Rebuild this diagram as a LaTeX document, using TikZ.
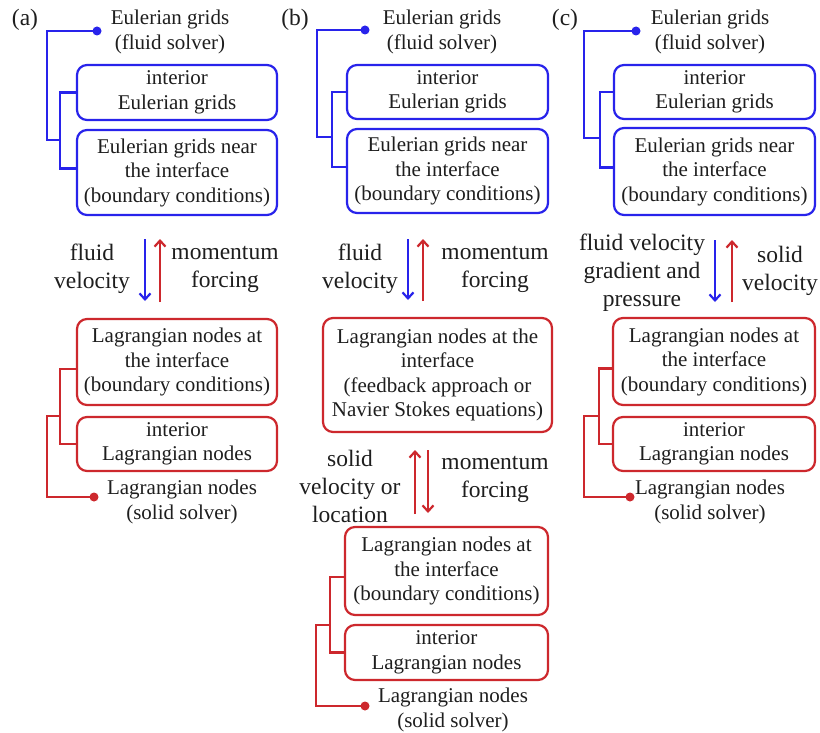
\documentclass[tikz,border=0pt]{standalone}
\usepackage{fontspec}
\setmainfont{Liberation Serif}
\usetikzlibrary{arrows.meta}
\definecolor{eblue}{RGB}{40,35,235}
\definecolor{lred}{RGB}{205,40,45}
\definecolor{txt}{RGB}{30,30,30}
\tikzset{
  bfont/.style={font=\fontsize{21}{24.5}\selectfont, text=txt},
  lfont/.style={font=\fontsize{23.5}{28}\selectfont, text=txt, align=center, inner sep=0pt},
  boxbase/.style={bfont, rounded corners=10pt, line width=2.2pt, align=center, inner sep=0pt},
  bluebox/.style={boxbase, draw=eblue},
  redbox/.style={boxbase, draw=lred},
  plain/.style={bfont, align=center, inner sep=0pt},
  bline/.style={draw=eblue, line width=2.2pt},
  rline/.style={draw=lred, line width=2.2pt},
  bdot/.style={circle, fill=eblue, inner sep=0pt, minimum size=9pt},
  rdot/.style={circle, fill=lred, inner sep=0pt, minimum size=9pt},
  barrow/.style={draw=eblue, line width=2.2pt, -{Straight Barb[length=6pt,width=11pt]}},
  rarrow/.style={draw=lred, line width=2.2pt, -{Straight Barb[length=6pt,width=11pt]}},
  plabel/.style={font=\fontsize{23.5}{28}\selectfont, text=txt, inner sep=0pt}
}
\begin{document}
\begin{tikzpicture}[x=1pt,y=-1pt]
\useasboundingbox (0,0) rectangle (820,733);
\fill[white] (0,0) rectangle (820,733);

% ================= (a) =================
\node[plabel] (la) at (25,20) {(a)};
\node[plain] (tEa) at (170,32) {Eulerian grids\\(fluid solver)};
\node[bdot] (dEa) at (97,31) {};
\node[bluebox, minimum width=200pt, minimum height=55pt] (bE1a) at (177,92.5) {interior\\Eulerian grids};
\node[bluebox, minimum width=200pt, minimum height=85pt] (bE2a) at (177,172.5) {Eulerian grids near\\the interface\\(boundary conditions)};
\coordinate (cEa) at (47,140);
\coordinate (jEa) at (60,140);
\draw[bline] (dEa.center) -| (cEa) -- (jEa);
\draw[bline] (bE1a.west) -| (jEa) |- ([yshift=4pt]bE2a.west);

\coordinate (a1t) at (145,239); \coordinate (a1b) at (145,301);
\coordinate (a2t) at (160,239); \coordinate (a2b) at (160,302);
\draw[barrow] (a1t) -- (a1b);
\draw[rarrow] (a2b) -- (a2t);
\node[lfont] (fva) at (92,269) {fluid\\velocity};
\node[lfont] (mfa) at (225,269) {momentum\\forcing};

\node[redbox, minimum width=200pt, minimum height=86pt] (bL1a) at (177,362) {Lagrangian nodes at\\the interface\\(boundary conditions)};
\node[redbox, minimum width=200pt, minimum height=54pt] (bL2a) at (177,444) {interior\\Lagrangian nodes};
\node[rdot] (dLa) at (94,497) {};
\node[plain] (tLa) at (182,502) {Lagrangian nodes\\(solid solver)};
\coordinate (jLa) at (60,416);
\coordinate (cLa) at (47,416);
\draw[rline] ([yshift=-7pt]bL1a.west) -| (jLa) |- (bL2a.west);
\draw[rline] (jLa) -- (cLa) |- (dLa.center);

% ================= (b) =================
\node[plabel] (lb) at (295,20) {(b)};
\node[plain] (tEb) at (442,32) {Eulerian grids\\(fluid solver)};
\node[bdot] (dEb) at (365,30) {};
\node[bluebox, minimum width=201pt, minimum height=54pt] (bE1b) at (447.5,92) {interior\\Eulerian grids};
\node[bluebox, minimum width=201pt, minimum height=84pt] (bE2b) at (447.5,171) {Eulerian grids near\\the interface\\(boundary conditions)};
\coordinate (cEb) at (317,137);
\coordinate (jEb) at (332,137);
\draw[bline] (dEb.center) -| (cEb) -- (jEb);
\draw[bline] (bE1b.west) -| (jEb) |- ([yshift=4pt]bE2b.west);

\coordinate (b1t) at (408,239); \coordinate (b1b) at (408,300);
\coordinate (b2t) at (423,239); \coordinate (b2b) at (423,301);
\draw[barrow] (b1t) -- (b1b);
\draw[rarrow] (b2b) -- (b2t);
\node[lfont] (fvb) at (360,269) {fluid\\velocity};
\node[lfont] (mfb) at (495,269) {momentum\\forcing};

\node[redbox, minimum width=229pt, minimum height=114pt] (bMb) at (437.5,375) {Lagrangian nodes at the\\interface\\(feedback approach or\\Navier Stokes equations)};

\coordinate (b3t) at (415,450); \coordinate (b3b) at (415,514);
\coordinate (b4t) at (428,450); \coordinate (b4b) at (428,513);
\draw[rarrow] (b3b) -- (b3t);
\draw[rarrow] (b4t) -- (b4b);
\node[lfont] (svb) at (350,486) {solid\\velocity or\\location};
\node[lfont] (mf2b) at (495,479) {momentum\\forcing};

\node[redbox, minimum width=203pt, minimum height=88pt] (bL1b) at (446.5,571) {Lagrangian nodes at\\the interface\\(boundary conditions)};
\node[redbox, minimum width=203pt, minimum height=55pt] (bL2b) at (446.5,652.5) {interior\\Lagrangian nodes};
\node[rdot] (dLb) at (365,706) {};
\node[plain] (tLb) at (453,710) {Lagrangian nodes\\(solid solver)};
\coordinate (jLb) at (330,625);
\coordinate (cLb) at (316,625);
\draw[rline] ([yshift=-6pt]bL1b.west) -| (jLb) |- (bL2b.west);
\draw[rline] (jLb) -- (cLb) |- (dLb.center);

% ================= (c) =================
\node[plabel] (lc) at (565,20) {(c)};
\node[plain] (tEc) at (710,32) {Eulerian grids\\(fluid solver)};
\node[bdot] (dEc) at (636,31) {};
\node[bluebox, minimum width=201pt, minimum height=54pt] (bE1c) at (714.5,92) {interior\\Eulerian grids};
\node[bluebox, minimum width=201pt, minimum height=87pt] (bE2c) at (714.5,171.5) {Eulerian grids near\\the interface\\(boundary conditions)};
\coordinate (cEc) at (584,138);
\coordinate (jEc) at (600,138);
\draw[bline] (dEc.center) -| (cEc) -- (jEc);
\draw[bline] (bE1c.west) -| (jEc) |- ([yshift=4pt]bE2c.west);

\coordinate (c1t) at (715,240); \coordinate (c1b) at (715,302);
\coordinate (c2t) at (732,240); \coordinate (c2b) at (732,302);
\draw[barrow] (c1t) -- (c1b);
\draw[rarrow] (c2b) -- (c2t);
\node[lfont] (fvc) at (642,273) {fluid velocity\\gradient and\\pressure};
\node[lfont] (svc) at (780,271) {solid\\velocity};

\node[redbox, minimum width=202pt, minimum height=87pt] (bL1c) at (714,361.5) {Lagrangian nodes at\\the interface\\(boundary conditions)};
\node[redbox, minimum width=202pt, minimum height=54pt] (bL2c) at (714,444) {interior\\Lagrangian nodes};
\node[rdot] (dLc) at (630,497) {};
\node[plain] (tLc) at (710,502) {Lagrangian nodes\\(solid solver)};
\coordinate (jLc) at (599,416);
\coordinate (cLc) at (584,416);
\draw[rline] ([yshift=-7pt]bL1c.west) -| (jLc) |- (bL2c.west);
\draw[rline] (jLc) -- (cLc) |- (dLc.center);
\end{tikzpicture}
\end{document}
